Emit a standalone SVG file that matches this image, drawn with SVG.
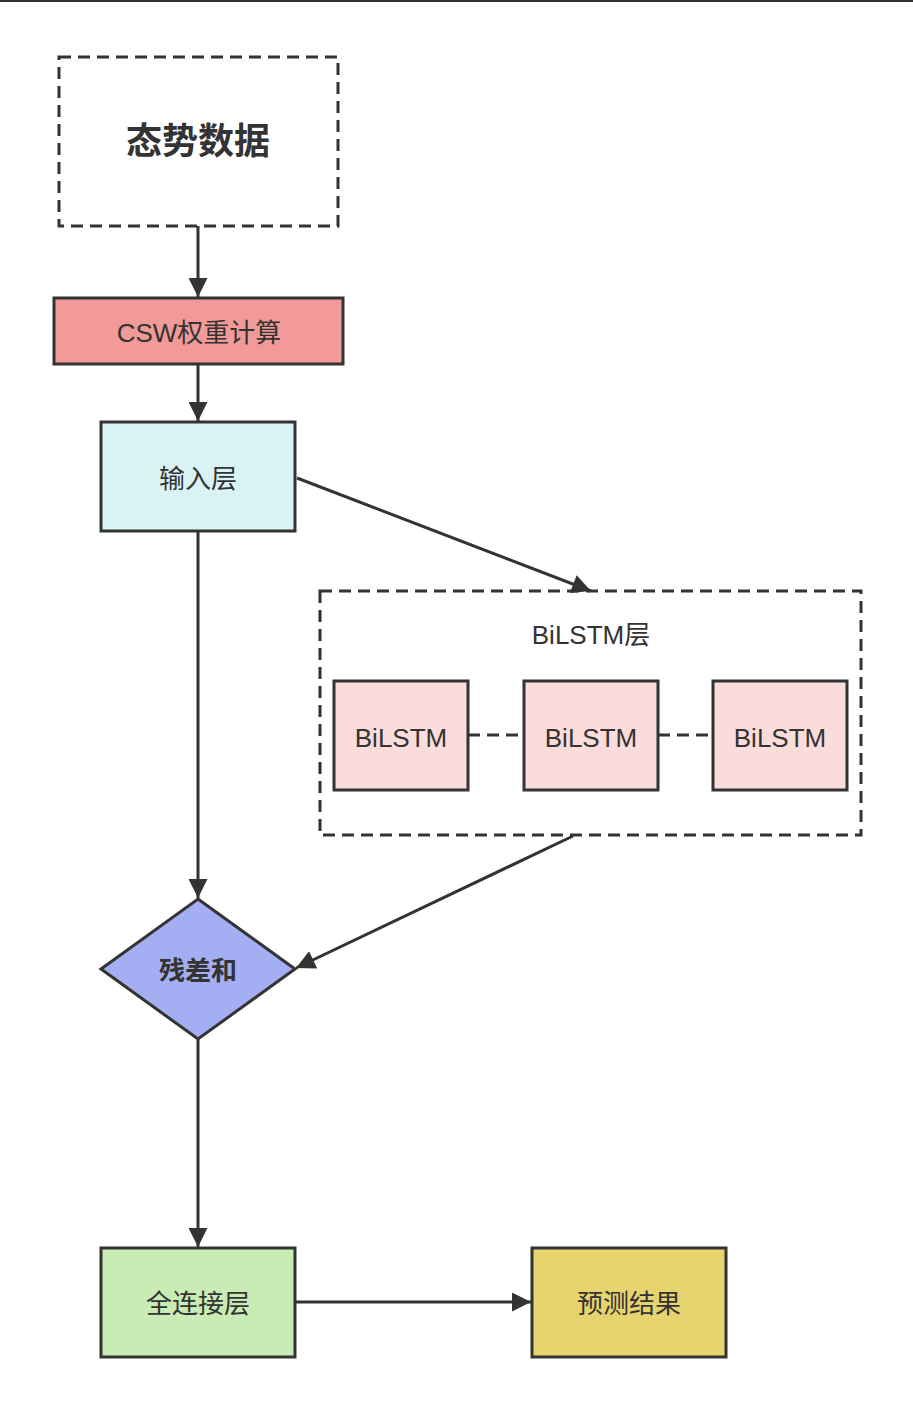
<svg xmlns="http://www.w3.org/2000/svg" width="913" height="1402" viewBox="0 0 913 1402">
  <defs>
    <marker id="arrowL" viewBox="0 0 10 10" refX="10" refY="5" markerWidth="22" markerHeight="19" markerUnits="userSpaceOnUse" orient="auto">
      <path d="M0,0 L10,5 L0,10 Z" fill="#333"/>
    </marker>
    <style>
      .box { stroke: #333; stroke-width: 3; }
      .dash { fill: none; stroke: #333; stroke-width: 3; stroke-dasharray: 12 7; }
      .edge { fill: none; stroke: #333; stroke-width: 3; }
      .lbl { font-family: "Liberation Sans", "Noto Sans CJK SC", sans-serif; font-size: 26px; fill: #333; text-anchor: middle; dominant-baseline: central; }
      .bold { font-weight: bold; }
    </style>
  </defs>
  <rect width="913" height="1402" fill="#fff"/>
  <line x1="0" y1="1" x2="913" y2="1" stroke="#333" stroke-width="2"/>

  <g id="connectors">
    <line class="edge" x1="198" y1="226" x2="198" y2="297" marker-end="url(#arrowL)"/>
    <line class="edge" x1="198" y1="364" x2="198" y2="421" marker-end="url(#arrowL)"/>
    <line class="edge" x1="297" y1="478" x2="591" y2="591" marker-end="url(#arrowL)"/>
    <line class="edge" x1="198" y1="531" x2="198" y2="898" marker-end="url(#arrowL)"/>
    <line class="edge" x1="573" y1="836" x2="296" y2="968" marker-end="url(#arrowL)"/>
    <line class="edge" x1="198" y1="1039" x2="198" y2="1247" marker-end="url(#arrowL)"/>
    <line class="edge" x1="295" y1="1302" x2="531" y2="1302" marker-end="url(#arrowL)"/>
    <line class="dash" x1="468" y1="735" x2="524" y2="735"/>
    <line class="dash" x1="658" y1="735" x2="713" y2="735"/>
  </g>

  <g id="situation-data">
    <rect class="dash" x="59" y="57" width="279" height="169"/>
    <text class="lbl bold" x="198" y="141" style="font-size:36px">态势数据</text>
  </g>
  <g id="csw">
    <rect class="box" x="54" y="298" width="289" height="66" fill="#f19a98"/>
    <text class="lbl" x="199" y="333">CSW权重计算</text>
  </g>
  <g id="input-layer">
    <rect class="box" x="101" y="422" width="194" height="109" fill="#d9f3f4"/>
    <text class="lbl" x="198" y="479">输入层</text>
  </g>
  <g id="bilstm-layer">
    <rect class="dash" x="320" y="591" width="541" height="244"/>
    <text class="lbl" x="591" y="635">BiLSTM层</text>
  </g>
  <g id="bilstm-1">
    <rect class="box" x="334" y="681" width="134" height="109" fill="#fadcda"/>
    <text class="lbl" x="401" y="738">BiLSTM</text>
  </g>
  <g id="bilstm-2">
    <rect class="box" x="524" y="681" width="134" height="109" fill="#fadcda"/>
    <text class="lbl" x="591" y="738">BiLSTM</text>
  </g>
  <g id="bilstm-3">
    <rect class="box" x="713" y="681" width="134" height="109" fill="#fadcda"/>
    <text class="lbl" x="780" y="738">BiLSTM</text>
  </g>
  <g id="residual-sum">
    <polygon class="box" points="198,899 295,969 198,1039 101,969" fill="#a4aef2"/>
    <text class="lbl bold" x="198" y="971">残差和</text>
  </g>
  <g id="fc-layer">
    <rect class="box" x="101" y="1248" width="194" height="109" fill="#c9ecb4"/>
    <text class="lbl" x="198" y="1304">全连接层</text>
  </g>
  <g id="prediction">
    <rect class="box" x="532" y="1248" width="194" height="109" fill="#e8d46e"/>
    <text class="lbl" x="629" y="1304">预测结果</text>
  </g>
</svg>
